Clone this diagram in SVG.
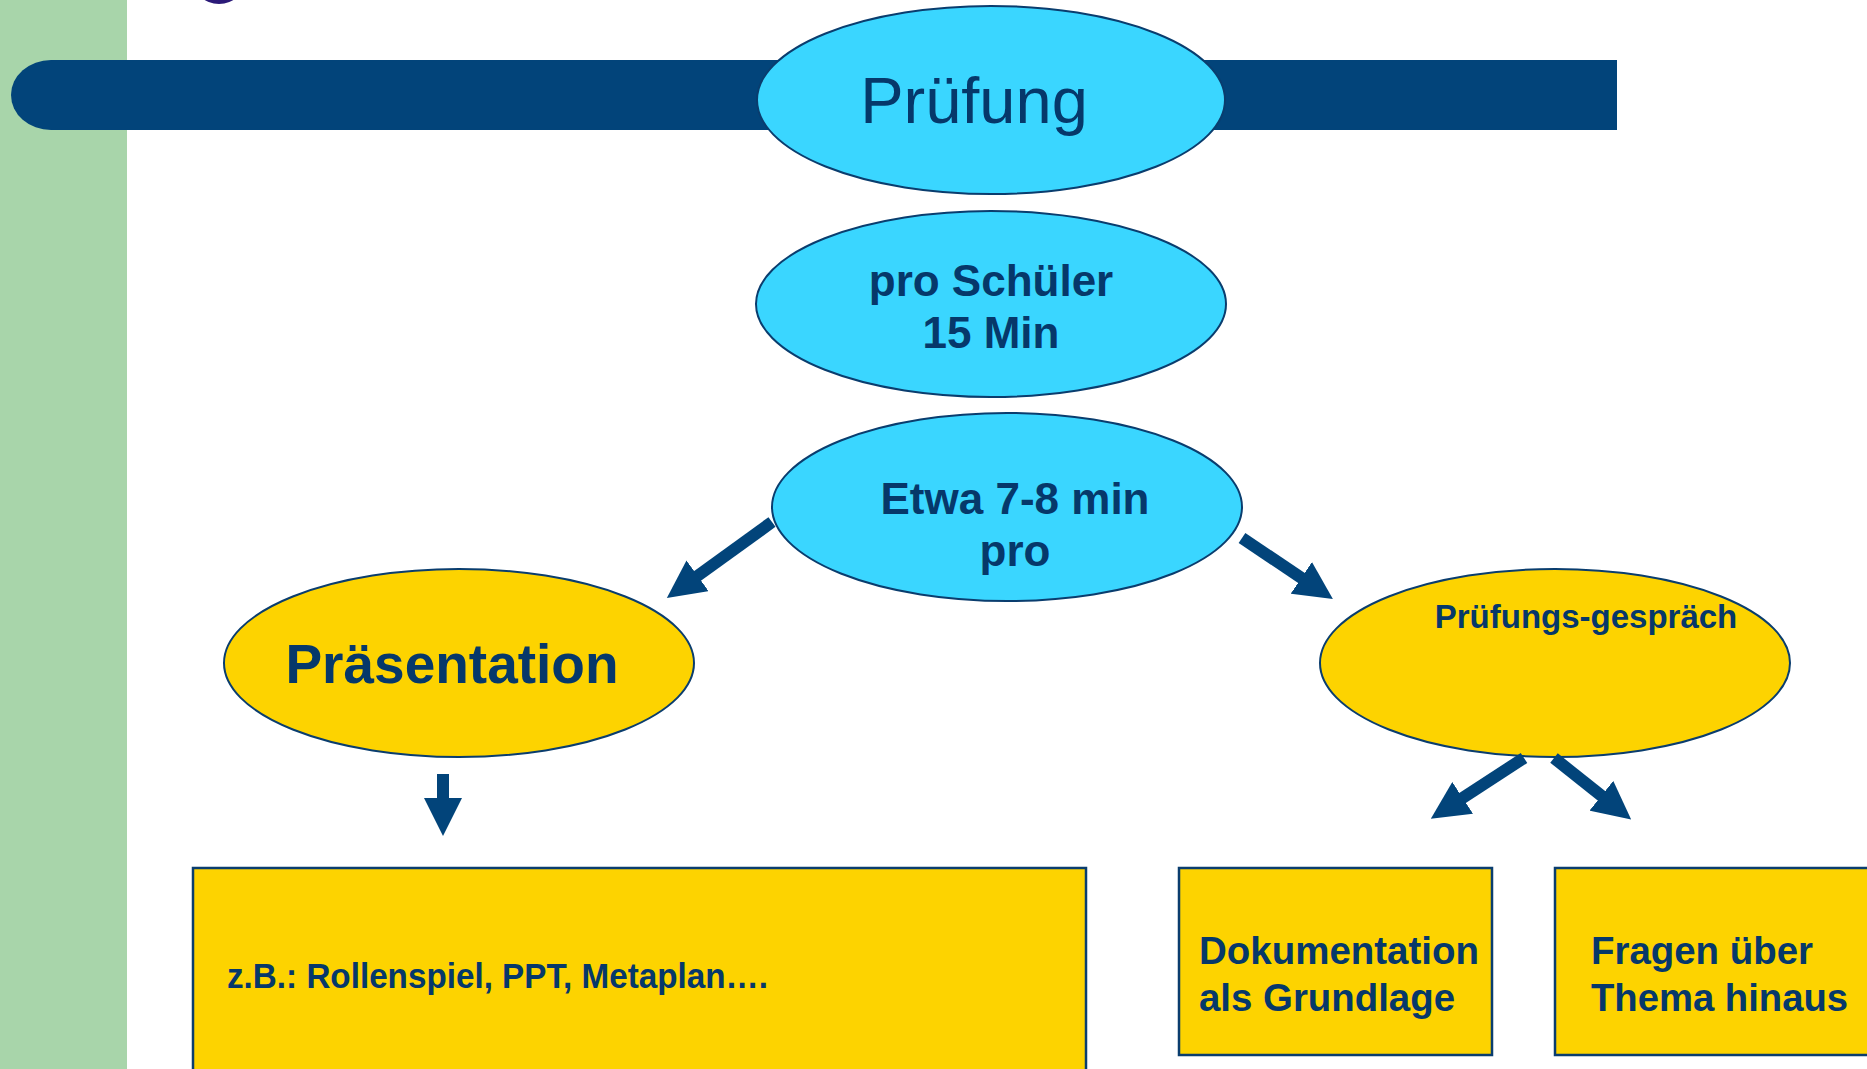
<svg xmlns="http://www.w3.org/2000/svg" width="1867" height="1069" viewBox="0 0 1867 1069">
<defs>
<style>
.bg{fill:#ffffff}
.strip{fill:#A8D5AA}
.banner{fill:#02447A}
.ell-c{fill:#3AD6FF;stroke:#0A3D6E;stroke-width:2}
.ell-y{fill:#FDD300;stroke:#0A3D6E;stroke-width:2}
.box{fill:#FDD300;stroke:#0A3D6E;stroke-width:2.5}
.t{font-family:"Liberation Sans",Arial,sans-serif;fill:#06386A}
.b{font-weight:bold}
.conn{stroke:#02447A;stroke-width:12;fill:none;marker-end:url(#head)}
</style>
<marker id="head" markerUnits="userSpaceOnUse" viewBox="0 0 38 38" refX="2" refY="19" markerWidth="38" markerHeight="38" orient="auto">
<path d="M0,0 L38,19 L0,38 Z" fill="#02447A"/>
</marker>
</defs>
<rect class="bg" x="0" y="0" width="1867" height="1069"/>
<rect class="strip" x="0" y="0" width="127" height="1069"/>
<ellipse cx="219" cy="-22" rx="27" ry="26" fill="#2B1A78"/>
<path class="banner" d="M1617,60 L51,60 A40,35 0 0 0 51,130 L1617,130 Z"/>

<g id="node-pruefung">
<ellipse class="ell-c" cx="991" cy="100" rx="234" ry="94"/>
<text class="t" x="974" y="123" font-size="65" text-anchor="middle">Prüfung</text>
</g>
<g id="node-pro-schueler">
<ellipse class="ell-c" cx="991" cy="304" rx="235" ry="93"/>
<text class="t b" x="991" y="296" font-size="44" text-anchor="middle">pro Schüler</text>
<text class="t b" x="991" y="348" font-size="44" text-anchor="middle">15 Min</text>
</g>
<g id="node-etwa">
<ellipse class="ell-c" cx="1007" cy="507" rx="235" ry="94"/>
<text class="t b" x="1015" y="514" font-size="44" text-anchor="middle">Etwa 7-8 min</text>
<text class="t b" x="1015" y="566" font-size="44" text-anchor="middle">pro</text>
</g>
<g id="node-praesentation">
<ellipse class="ell-y" cx="459" cy="663" rx="235" ry="94"/>
<text class="t b" x="452" y="683" font-size="55" text-anchor="middle">Präsentation</text>
</g>
<g id="node-pruefungsgespraech">
<ellipse class="ell-y" cx="1555" cy="663" rx="235" ry="94"/>
<text class="t b" x="1586" y="628" font-size="33" text-anchor="middle">Prüfungs-gespräch</text>
</g>
<g id="node-beispiele">
<rect class="box" x="193" y="868" width="893" height="215"/>
<text class="t b" x="227" y="988" font-size="35" textLength="541" lengthAdjust="spacingAndGlyphs">z.B.: Rollenspiel, PPT, Metaplan….</text>
</g>
<g id="node-dokumentation">
<rect class="box" x="1179" y="868" width="313" height="187"/>
<text class="t b" x="1199" y="964" font-size="39" textLength="280" lengthAdjust="spacingAndGlyphs">Dokumentation</text>
<text class="t b" x="1199" y="1011" font-size="39" textLength="256" lengthAdjust="spacingAndGlyphs">als Grundlage</text>
</g>
<g id="node-fragen">
<rect class="box" x="1555" y="868" width="316" height="187"/>
<text class="t b" x="1591" y="964" font-size="39" textLength="222" lengthAdjust="spacingAndGlyphs">Fragen über</text>
<text class="t b" x="1591" y="1011" font-size="39" textLength="257" lengthAdjust="spacingAndGlyphs">Thema hinaus</text>
</g>

<g id="connectors">
<line class="conn" x1="772" y1="522" x2="696" y2="577"/>
<line class="conn" x1="1242" y1="538" x2="1303" y2="579"/>
<line class="conn" x1="443" y1="774" x2="443" y2="800"/>
<line class="conn" x1="1524" y1="758" x2="1461" y2="799"/>
<line class="conn" x1="1554" y1="758" x2="1603" y2="797"/>
</g>
</svg>
